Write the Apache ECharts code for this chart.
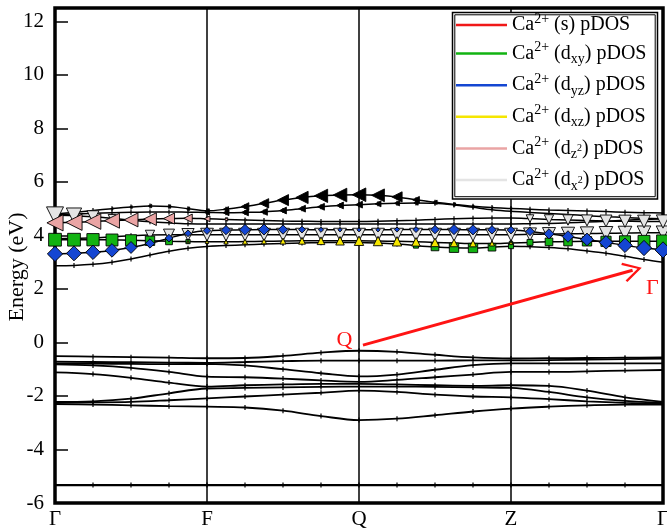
<!DOCTYPE html>
<html><head><meta charset="utf-8">
<script src="https://cdn.jsdelivr.net/npm/echarts@6/dist/echarts.min.js"></script>
<style>html,body{margin:0;padding:0;background:#fff}#c{width:667px;height:531px}</style>
</head><body><div id="c"></div>
<script>
// ---- k-path ----
const kLabels = ['Γ','F','Q','Z','Γ'];
const kCoarse = [0,0.25,0.5,0.75,1,1.25,1.5,1.75,2,2.25,2.5,2.75,3,3.25,3.5,3.75,4];
const kFine = [0,0.125,0.25,0.375,0.5,0.625,0.75,0.875,1,1.125,1.25,1.375,1.5,1.625,1.75,1.875,2,
               2.125,2.25,2.375,2.5,2.625,2.75,2.875,3,3.125,3.25,3.375,3.5,3.625,3.75,3.875,4];

// ---- valence bands (eV) on kCoarse ----
const v1 = [-0.51,-0.53,-0.55,-0.57,-0.59,-0.58,-0.50,-0.38,-0.31,-0.35,-0.46,-0.56,-0.60,-0.59,-0.58,-0.57,-0.56];
const v2 = [-0.72,-0.73,-0.74,-0.75,-0.76,-0.73,-0.70,-0.68,-0.68,-0.68,-0.68,-0.67,-0.67,-0.66,-0.64,-0.62,-0.60];
const v3 = [-0.78,-0.79,-0.80,-0.81,-0.80,-0.86,-1.00,-1.15,-1.27,-1.20,-1.02,-0.85,-0.78,-0.78,-0.78,-0.78,-0.78];
const v4 = [-0.82,-0.86,-0.95,-1.10,-1.28,-1.30,-1.35,-1.42,-1.47,-1.40,-1.30,-1.20,-1.10,-1.10,-1.08,-1.05,-1.03];
const v5 = [-1.12,-1.18,-1.32,-1.50,-1.65,-1.60,-1.57,-1.55,-1.55,-1.57,-1.60,-1.62,-1.60,-1.62,-1.80,-2.05,-2.22];
const v6 = [-2.22,-2.20,-2.10,-1.90,-1.72,-1.70,-1.68,-1.66,-1.65,-1.65,-1.66,-1.68,-1.70,-1.85,-2.05,-2.18,-2.25];
const v7 = [-2.25,-2.24,-2.22,-2.16,-2.09,-2.02,-1.95,-1.88,-1.80,-1.85,-1.95,-2.02,-2.05,-2.12,-2.20,-2.26,-2.30];
const v8 = [-2.30,-2.32,-2.35,-2.38,-2.40,-2.43,-2.55,-2.75,-2.90,-2.85,-2.72,-2.58,-2.47,-2.40,-2.35,-2.32,-2.32];
const vFlat = [-5.33,-5.33,-5.33,-5.33,-5.33,-5.33,-5.33,-5.33,-5.33,-5.33,-5.33,-5.33,-5.33,-5.33,-5.33,-5.33,-5.33];

// ---- conduction bands (eV) on kFine ----
const c1 = [2.87,2.88,2.92,3.00,3.12,3.27,3.41,3.52,3.59, 3.62,3.65,3.68,3.70,3.72,3.73,3.74,3.74,
            3.72,3.68,3.62,3.57,3.54,3.53,3.56,3.60, 3.58,3.55,3.50,3.42,3.33,3.22,3.10,3.00];
const c2 = [3.31,3.33,3.37,3.44,3.55,3.70,3.90,4.08,4.18, 4.20,4.21,4.22,4.22,4.22,4.21,4.21,4.21,
            4.21,4.22,4.22,4.22,4.22,4.21,4.21,4.20, 4.15,4.06,3.96,3.85,3.74,3.63,3.53,3.46];
const c3 = [3.84,3.84,3.84,3.83,3.82,3.80,3.78,3.77,3.76, 3.76,3.77,3.78,3.79,3.80,3.80,3.80,3.80,
            3.79,3.78,3.76,3.74,3.72,3.70,3.70,3.72, 3.74,3.76,3.77,3.78,3.78,3.78,3.78,3.78];
const c4 = [3.88,3.89,3.91,3.95,3.99,4.02,4.03,4.03,4.03, 4.03,4.03,4.03,4.03,4.03,4.03,4.03,4.03,
            4.03,4.03,4.03,4.03,4.03,4.03,4.03,4.03, 4.04,4.05,4.06,4.07,4.08,4.09,4.10,4.10];
const c5 = [4.47,4.49,4.52,4.55,4.58,4.61,4.63,4.64,4.62, 4.60,4.58,4.56,4.54,4.53,4.52,4.52,4.52,
            4.53,4.55,4.57,4.60,4.62,4.64,4.65,4.65, 4.63,4.60,4.58,4.56,4.54,4.53,4.52,4.52];
const c6 = [4.75,4.74,4.70,4.64,4.57,4.51,4.47,4.44,4.43, 4.43,4.43,4.43,4.43,4.43,4.43,4.43,4.43,
            4.43,4.43,4.43,4.43,4.43,4.43,4.43,4.43, 4.44,4.45,4.47,4.50,4.53,4.57,4.60,4.62];
const c7 = [4.80,4.86,4.93,5.00,5.06,5.10,5.08,5.00,4.92, 4.98,5.08,5.20,5.32,5.42,5.48,5.51,5.52,
            5.50,5.44,5.33,5.24,5.16,5.09,5.04,5.01, 4.98,4.95,4.93,4.91,4.89,4.87,4.85,4.84];
const c8 = [4.78,4.80,4.83,4.85,4.87,4.88,4.88,4.87,4.86, 4.85,4.86,4.88,4.93,5.00,5.07,5.12,5.15,
            5.18,5.20,5.21,5.20,5.14,5.05,4.96,4.90, 4.86,4.82,4.78,4.74,4.70,4.67,4.64,4.62];

// ---- orbital projection weights (0..1) on kFine ----
const w_s_c1   = [0,0,0,0,0,0,0,0,0, 0,0,0,0,0,0,0,0, 0,0,0,0,0,0,0,0, 0,0,0,0,0,0,0,0];
const w_dxy_c3 = [0.75,0.75,0.72,0.7,0.65,0.55,0.4,0.25,0.12, 0,0,0,0,0,0,0,0, 0,0,0,0,0,0,0,0.2, 0.35,0.45,0.5,0.55,0.6,0.65,0.7,0.75];
const w_dxy_c1 = [0,0,0,0,0,0,0,0,0, 0,0,0,0,0,0,0,0, 0,0,0.3,0.45,0.55,0.55,0.45,0.3, 0,0,0,0,0,0,0,0];
const w_dyz_c2 = [0.9,0.88,0.85,0.8,0.7,0.55,0.45,0.4,0.45, 0.55,0.65,0.65,0.55,0.4,0.3,0.25,0.25, 0.25,0.3,0.35,0.5,0.6,0.6,0.5,0.45, 0.5,0.6,0.68,0.75,0.8,0.85,0.9,0.95];
const w_dxz_c3 = [0,0,0,0,0,0,0,0.15,0.2, 0.25,0.3,0.3,0.35,0.4,0.45,0.5,0.55, 0.55,0.55,0.5,0.5,0.45,0.4,0.3,0.2, 0,0,0,0,0,0,0,0];
const w_dz2_c5 = [0.95,0.95,0.92,0.88,0.82,0.75,0.65,0.5,0.35, 0.2,0.12,0,0,0,0,0,0, 0,0,0,0,0,0,0,0, 0,0,0,0,0,0,0,0];
const w_dx2_c6 = [1.0,0.9,0.7,0.45,0.25,0,0,0,0, 0,0,0,0,0,0,0,0, 0,0,0,0,0,0,0,0, 0,0,0,0,0,0,0,0];
const w_dx2_c4 = [0,0,0,0,0,0.55,0.65,0.72,0.75, 0.75,0.75,0.75,0.75,0.75,0.75,0.75,0.75, 0.75,0.75,0.75,0.75,0.75,0.75,0.75,0.75, 0.76,0.77,0.78,0.79,0.8,0.8,0.8,0.8];
const w_dx2_c5 = [0,0,0,0,0,0,0,0,0, 0,0,0,0,0,0,0,0, 0,0,0,0,0,0,0,0, 0.45,0.55,0.6,0.65,0.7,0.72,0.75,0.78];
const w_oth_c7 = [0,0,0,0.12,0.15,0.2,0.2,0.2,0.25, 0.3,0.45,0.55,0.65,0.72,0.78,0.8,0.8, 0.75,0.6,0.4,0.25,0.18,0.12,0.1,0.1, 0,0,0,0,0,0,0,0];
const w_oth_c8 = [0,0,0,0,0,0,0,0,0.3, 0.35,0.4,0.4,0.4,0.4,0.4,0.4,0.4, 0.35,0.3,0.25,0,0,0,0,0, 0,0,0,0,0,0,0,0];

const seriesNames = ['Ca2+ (s) pDOS','Ca2+ (dxy) pDOS','Ca2+ (dyz) pDOS','Ca2+ (dxz) pDOS','Ca2+ (dz2) pDOS','Ca2+ (dx2) pDOS'];
const legendText = {
  'Ca2+ (s) pDOS':   '{m|Ca}{sup|2+}{m| (s) pDOS}',
  'Ca2+ (dxy) pDOS': '{m|Ca}{sup|2+}{m| (d}{sub|xy}{m|) pDOS}',
  'Ca2+ (dyz) pDOS': '{m|Ca}{sup|2+}{m| (d}{sub|yz}{m|) pDOS}',
  'Ca2+ (dxz) pDOS': '{m|Ca}{sup|2+}{m| (d}{sub|xz}{m|) pDOS}',
  'Ca2+ (dz2) pDOS': '{m|Ca}{sup|2+}{m| (d}{sub|z}{sup2|2}{m|) pDOS}',
  'Ca2+ (dx2) pDOS': '{m|Ca}{sup|2+}{m| (d}{sub|x}{sup2|2}{m|) pDOS}'
};

// ---- build ----
const SERIF = '"Liberation Serif", "Times New Roman", serif';
const MAXSYM = 17;
function pairs(k, e) { return k.map((x, i) => [x, e[i]]); }
function fat(band, w) {
  const out = [];
  for (let i = 0; i < kFine.length; i++) if (w[i] > 0) out.push([kFine[i], band[i], w[i]]);
  return out;
}
function bandLine(k, e, width) {
  return {
    type: 'line', data: pairs(k, e), smooth: 0.35, silent: true, z: 2,
    lineStyle: { color: '#000', width: width || 1.5 },
    symbol: 'rect', symbolSize: [1.2, 5], showSymbol: true, showAllSymbol: true,
    itemStyle: { color: '#000' }, animation: false
  };
}
function fatSeries(name, data, symbol, rot, color, z) {
  return {
    type: 'scatter', name: name, data: data, symbol: symbol, symbolRotate: rot, z: z,
    symbolSize: d => d[2] * MAXSYM, silent: true, animation: false, clip: false,
    itemStyle: { color: color, borderColor: '#000', borderWidth: 0.9, opacity: 1 }
  };
}

const series = [];
[v1, v2, v3, v4, v5, v6, v7, v8].forEach(b => series.push(bandLine(kCoarse, b, 1.8)));
const flat = bandLine(kCoarse, vFlat, 2.3);
flat.markLine = {
  silent: true, animation: false,
  symbol: ['none', 'path://M0,0L12,20L9.6,21.5L0,5L-9.6,21.5L-12,20Z'],
  symbolSize: [20, 19],
  lineStyle: { color: '#ff1414', width: 3, type: 'solid' },
  label: { show: false },
  data: [[{ coord: [2.026, -0.10] }, { coord: [3.80, 2.70] }]]
};
flat.markPoint = {
  silent: true, animation: false, symbol: 'circle', symbolSize: 2,
  itemStyle: { color: 'rgba(0,0,0,0)' },
  label: { show: true, position: 'inside', color: '#ff1414', fontFamily: SERIF, fontSize: 22 },
  data: [
    { coord: [1.905, 0.10], label: { formatter: 'Q' } },
    { coord: [3.93, 2.04], label: { formatter: 'Γ' } }
  ]
};
series.push(flat);
[c1, c2, c3, c4, c5, c6, c7, c8].forEach(b => series.push(bandLine(kFine, b, 1.5)));

// fat bands
series.push(fatSeries(seriesNames[5], fat(c6, w_dx2_c6).concat(fat(c4, w_dx2_c4), fat(c5, w_dx2_c5)), 'triangle', 180, '#e4e4e4', 3));
series.push(fatSeries(seriesNames[1], fat(c3, w_dxy_c3).concat(fat(c1, w_dxy_c1)), 'rect', 0, '#12b312', 4));
series.push(fatSeries(seriesNames[4], fat(c5, w_dz2_c5), 'triangle', 90, '#eaa4a4', 5));
series.push(fatSeries(seriesNames[2], fat(c2, w_dyz_c2), 'diamond', 0, '#1446d2', 6));
series.push(fatSeries(seriesNames[3], fat(c3, w_dxz_c3), 'triangle', 0, '#f5e600', 7));
series.push(fatSeries(seriesNames[0], fat(c1, w_s_c1), 'circle', 0, '#f01818', 8));
series.push(fatSeries('other', fat(c7, w_oth_c7).concat(fat(c8, w_oth_c8)), 'triangle', 90, '#000', 8));

const legendColors = ['#f01818', '#12b312', '#1446d2', '#f5e600', '#eaa4a4', '#e4e4e4'];

const chart = echarts.init(document.getElementById('c'), null, { renderer: 'canvas' });
chart.setOption({
  animation: false,
  backgroundColor: '#fff',
  grid: { left: 55, right: 4, top: 8, bottom: 28, outerBoundsMode: 'none', containLabel: false,
          show: true, borderColor: '#000', borderWidth: 3.5, backgroundColor: 'transparent' },
  xAxis: {
    type: 'value', min: 0, max: 4, interval: 1,
    axisLine: { show: false }, axisTick: { show: false },
    splitLine: { show: true, lineStyle: { color: '#000', width: 1.5 } },
    axisLabel: { formatter: v => kLabels[Math.round(v)], fontFamily: SERIF, fontSize: 21, color: '#000', margin: 6, showMinLabel: true, showMaxLabel: true, hideOverlap: false }
  },
  yAxis: {
    type: 'value', min: -6, max: 12.5, interval: 2,
    name: 'Energy (eV)', nameLocation: 'middle', nameGap: 27, nameMoveOverlap: false,
    nameTextStyle: { fontFamily: SERIF, fontSize: 22, color: '#000', padding: [0, 23, 0, 0] },
    axisLine: { show: false },
    axisTick: { show: true, inside: true, length: 13, lineStyle: { color: '#000', width: 1.5 } },
    splitLine: { show: false },
    axisLabel: { fontFamily: SERIF, fontSize: 21, color: '#000', margin: 11, showMaxLabel: false }
  },
  legend: {
    orient: 'vertical', left: 456, top: 12, padding: 0, itemGap: 5.6,
    itemWidth: 51, itemHeight: 2.5, icon: 'rect', z: 10, selectedMode: false,
    itemStyle: { borderWidth: 0 },
    data: seriesNames.map((n, i) => ({ name: n, icon: 'rect', itemStyle: { color: legendColors[i], borderWidth: 0 } })),
    formatter: n => legendText[n],
    textStyle: {
      fontFamily: SERIF, fontSize: 20, color: '#000',
      rich: {
        m: { fontFamily: SERIF, fontSize: 20, lineHeight: 26, color: '#000' },
        sup: { fontFamily: SERIF, fontSize: 14, lineHeight: 14, verticalAlign: 'top', color: '#000' },
        sub: { fontFamily: SERIF, fontSize: 14, lineHeight: 14, verticalAlign: 'bottom', color: '#000' },
        sup2: { fontFamily: SERIF, fontSize: 10, lineHeight: 12, verticalAlign: 'middle', color: '#000' }
      }
    }
  },
  graphic: {
    elements: [
      { type: 'rect', z: 9, silent: true, shape: { x: 452.5, y: 12.5, width: 205, height: 186.5 }, style: { fill: '#fff', stroke: '#000', lineWidth: 1.5 } },
      { type: 'rect', z: 9, silent: true, shape: { x: 454.8, y: 14.8, width: 200.4, height: 181.9 }, style: { fill: 'none', stroke: '#000', lineWidth: 1 } }
    ]
  },
  series: series
});
</script>
</body></html>
